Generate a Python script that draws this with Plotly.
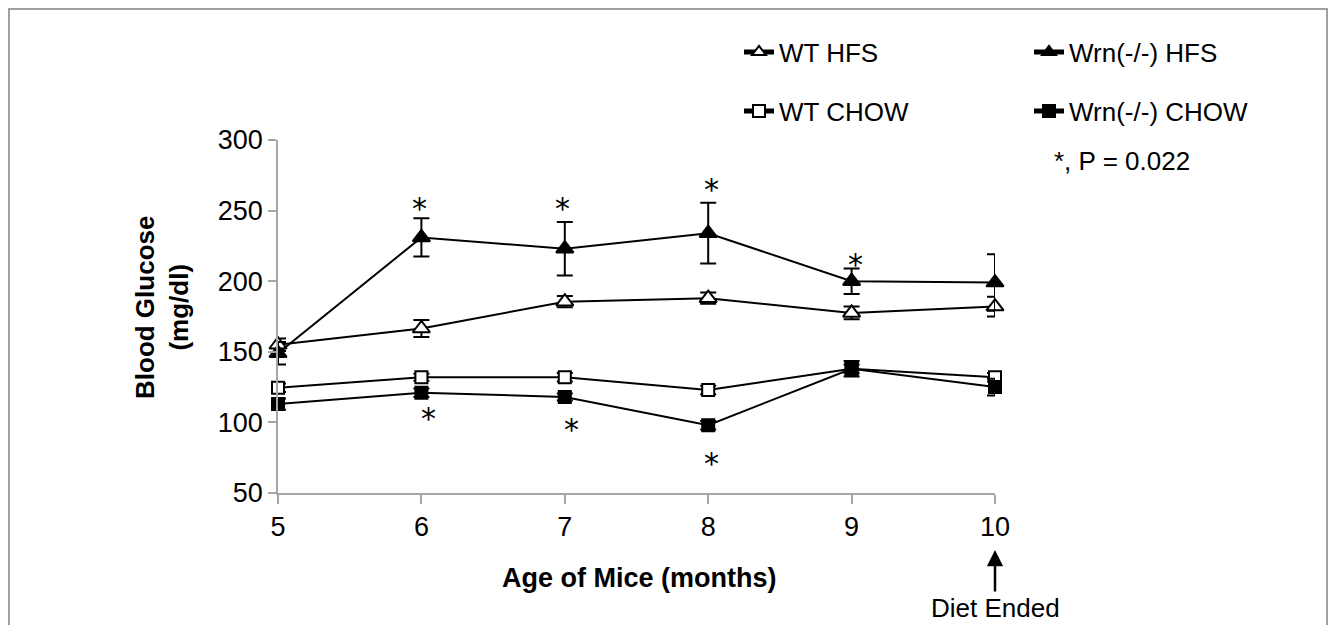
import plotly.graph_objects as go

# ---- data ----
months = [5, 6, 7, 8, 9, 10]
wt_hfs = [155, 166.5, 185.5, 188, 177.5, 182]
wt_hfs_err = [4.5, 6, 4, 4, 4.5, 7]
wrn_hfs = [149, 231, 223, 234, 200, 199]
wrn_hfs_err = [8, 13.5, 19, 21.5, 9, 20]
wt_chow = [124.5, 132, 132, 123, 138, 132]
wt_chow_err = [3, 2.5, 3, 3, 3, 3]
wrn_chow = [113, 121, 118, 98, 138, 125]
wrn_chow_err = [4, 3, 2.5, 3, 5.5, 6]

star_x = [5.99, 6.985, 8.02, 9.03, 6.05, 7.05, 8.02]
star_y = [254, 254, 268, 215, 105.5, 98, 74]

x_ticks = [5, 6, 7, 8, 9, 10]
y_ticks = [50, 100, 150, 200, 250, 300]

FONT = "Liberation Sans, Arial, sans-serif"
OFF = 8  # page body margin
W, H = 1320, 617
ML, MT = 278 - OFF, 140 - OFF
PW, PH = 717, 353
MR, MB = W - ML - PW, H - MT - PH


def px(x):
    return (x - OFF - ML) / PW


def py(y):
    return (MT + PH - (y - OFF)) / PH


series = [
    ("WT HFS", wt_hfs, wt_hfs_err, "triangle-up", "white", 15, "legend"),
    ("Wrn(-/-) HFS", wrn_hfs, wrn_hfs_err, "triangle-up", "black", 15, "legend2"),
    ("WT CHOW", wt_chow, wt_chow_err, "square", "white", 12, "legend3"),
    ("Wrn(-/-) CHOW", wrn_chow, wrn_chow_err, "square", "black", 12, "legend4"),
]

fig = go.Figure()
for name, vals, err, sym, fill, size, lg in series:
    fig.add_trace(go.Scatter(
        x=months, y=vals, name=name, mode="lines+markers",
        line=dict(color="black", width=2),
        marker=dict(symbol=sym, size=size, color=fill,
                    line=dict(color="black", width=2)),
        error_y=dict(type="data", array=err, visible=True,
                     color="black", thickness=2, width=8),
        cliponaxis=False, legend=lg,
    ))

for sx, sy in zip(star_x, star_y):
    fig.add_annotation(x=sx, y=sy, xref="x", yref="y", text="*",
                       showarrow=False, yshift=-4,
                       font=dict(family="DejaVu Sans", size=30, color="black"))

legend_common = dict(font=dict(family=FONT, size=26, color="black"),
                     bgcolor="rgba(0,0,0,0)", xanchor="left", yanchor="middle",
                     itemwidth=30, itemsizing="constant")
layout_legends = {
    "legend": dict(x=px(739), y=py(52), **legend_common),
    "legend2": dict(x=px(1029), y=py(52), **legend_common),
    "legend3": dict(x=px(739), y=py(111), **legend_common),
    "legend4": dict(x=px(1029), y=py(111), **legend_common),
}

fig.update_layout(
    width=W, height=H,
    margin=dict(l=ML, r=MR, t=MT, b=MB),
    paper_bgcolor="white", plot_bgcolor="white",
    font=dict(family=FONT, size=26, color="black"),
    showlegend=True,
    **layout_legends,
    xaxis=dict(range=[5, 10], tickvals=x_ticks, showgrid=False, zeroline=False,
               showline=True, linecolor="#a6a6a6", linewidth=1.5,
               ticks="outside", ticklen=9, tickcolor="#a6a6a6", tickwidth=1.5,
               tickfont=dict(family=FONT, size=27, color="black")),
    yaxis=dict(range=[50, 300], tickvals=y_ticks, showgrid=False, zeroline=False,
               showline=True, linecolor="#a6a6a6", linewidth=1.5,
               ticks="outside", ticklen=8, tickcolor="#a6a6a6", tickwidth=1.5,
               tickfont=dict(family=FONT, size=27, color="black")),
)

# axis titles
fig.add_annotation(x=px(639), y=py(578), xref="paper", yref="paper",
                   text="<b>Age of Mice (months)</b>", showarrow=False,
                   xanchor="center", yanchor="middle",
                   font=dict(family=FONT, size=27, color="black"))
fig.add_annotation(x=px(162), y=py(308), xref="paper", yref="paper",
                   text="<b>Blood Glucose<br>(mg/dl)</b>", showarrow=False,
                   textangle=-90, xanchor="center", yanchor="middle",
                   font=dict(family=FONT, size=26, color="black"))

# significance note
fig.add_annotation(x=px(1052), y=py(161), xref="paper", yref="paper",
                   text="*, P = 0.022", showarrow=False,
                   xanchor="left", yanchor="middle",
                   font=dict(family=FONT, size=26, color="black"))

# Diet ended arrow
fig.add_annotation(x=10, y=py(550), xref="x", yref="paper",
                   text="Diet Ended", showarrow=True,
                   ax=0, ay=58, arrowhead=2, arrowsize=1.3, arrowwidth=2.5,
                   arrowcolor="black",
                   font=dict(family=FONT, size=26, color="black"))

# outer border
fig.add_shape(type="rect", xref="paper", yref="paper",
              x0=px(9), x1=px(1327), y0=py(660), y1=py(9),
              line=dict(color="#a0a0a0", width=2), fillcolor="rgba(0,0,0,0)",
              layer="below")

fig.write_html("out.html")
